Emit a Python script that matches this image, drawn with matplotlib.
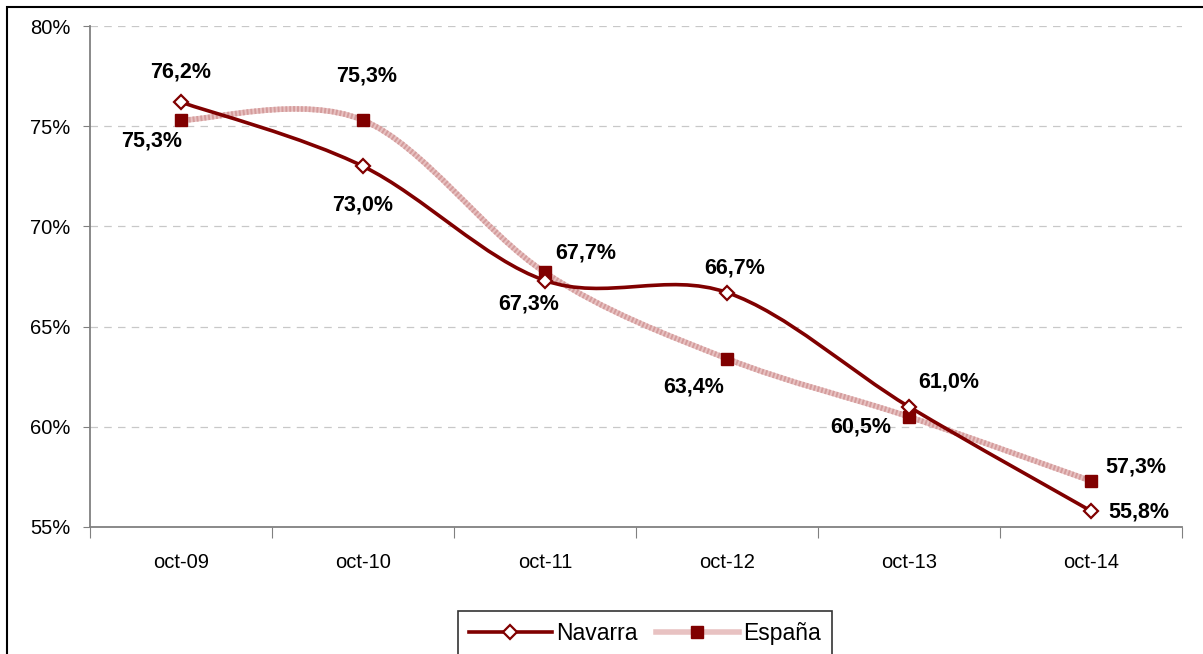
import matplotlib
matplotlib.use('Agg')
import matplotlib.pyplot as plt
from matplotlib.path import Path
from matplotlib.patches import PathPatch, Rectangle
from matplotlib.lines import Line2D
import numpy as np

# --- ДАННЫЕ ---
categories = ['oct-09', 'oct-10', 'oct-11', 'oct-12', 'oct-13', 'oct-14']
navarra = [76.2, 73.0, 67.3, 66.7, 61.0, 55.8]
espana = [75.3, 75.3, 67.7, 63.4, 60.5, 57.3]
navarra_labels = ['76,2%', '73,0%', '67,3%', '66,7%', '61,0%', '55,8%']
espana_labels = ['75,3%', '75,3%', '67,7%', '63,4%', '60,5%', '57,3%']
yticks = [55, 60, 65, 70, 75, 80]

# смещения подписей в пикселях
navarra_offsets = [(0, 30), (0, -39), (-16, -23), (8, 25), (40, 25), (48, -1)]
espana_offsets = [(-29, -21), (4, 44), (41, 19), (-33, -28), (-48, -10), (45, 14)]

MAROON = '#800000'
PINK = '#E8C2C2'
PINK_DARK = '#D49C9C'


def smooth_path(xs, ys):
    """Сглаженная линия в стиле Excel (кривые Безье, Catmull-Rom)."""
    pts = np.column_stack([xs, ys]).astype(float)
    n = len(pts)
    tang = np.zeros_like(pts)
    for i in range(n):
        a = pts[max(i - 1, 0)]
        b = pts[min(i + 1, n - 1)]
        tang[i] = (b - a) / 2.0
    verts = [pts[0]]
    codes = [Path.MOVETO]
    for i in range(n - 1):
        verts += [pts[i] + tang[i] / 3.0, pts[i + 1] - tang[i + 1] / 3.0, pts[i + 1]]
        codes += [Path.CURVE4] * 3
    return Path(verts, codes)


fig = plt.figure(figsize=(12.03, 6.54), dpi=100)
plt.rcParams['font.family'] = ['Liberation Sans', 'DejaVu Sans']
ax = fig.add_axes([90 / 1203, 1 - 527 / 654, 1092 / 1203, 501 / 654])

x = np.arange(len(categories))

# España: светлая "текстурная" линия
p = smooth_path(x, espana)
ax.add_patch(PathPatch(p, fill=False, edgecolor=PINK, lw=4, zorder=3))
ax.add_patch(PathPatch(p, fill=False, edgecolor=PINK_DARK, lw=4,
                       linestyle=(0, (0.35, 0.35)), zorder=3))
ax.plot(x, espana, ls='none', marker='s', ms=9, color=MAROON, zorder=5)

# Navarra
ax.add_patch(PathPatch(smooth_path(x, navarra), fill=False, edgecolor=MAROON, lw=2.6, zorder=4))
ax.plot(x, navarra, ls='none', marker='D', ms=7, mfc='white', mec=MAROON, mew=1.6, zorder=6)

for xi, v, lab, off in zip(x, navarra, navarra_labels, navarra_offsets):
    ax.annotate(lab, (xi, v), xytext=off, textcoords='offset pixels',
                ha='center', va='center', fontsize=15.5, fontweight='bold', zorder=7)
for xi, v, lab, off in zip(x, espana, espana_labels, espana_offsets):
    ax.annotate(lab, (xi, v), xytext=off, textcoords='offset pixels',
                ha='center', va='center', fontsize=15.5, fontweight='bold', zorder=7)

# Оси
ax.set_xlim(-0.5, len(categories) - 0.5)
ax.set_ylim(55, 80)
ax.set_yticks(yticks)
ax.set_yticklabels([f'{t}%' for t in yticks], fontsize=14.5)
ax.set_xticks(np.arange(len(categories) + 1) - 0.5)
ax.set_xticklabels([])
ax.set_xticks(x, minor=True)
ax.set_xticklabels(categories, minor=True, fontsize=14.5)
ax.tick_params(axis='x', which='major', length=8, color='#808080', direction='out')
ax.tick_params(axis='x', which='minor', length=0, pad=19)
ax.tick_params(axis='y', length=5, color='#808080', direction='out', pad=9)

for s in ['top', 'right']:
    ax.spines[s].set_visible(False)
for s in ['left', 'bottom']:
    ax.spines[s].set_color('#808080')
    ax.spines[s].set_linewidth(1.3)

for t in yticks[1:]:
    ax.axhline(t, color='#C8C8C8', lw=0.9, ls=(0, (6, 5)), zorder=1)

# Легенда
handles = [
    Line2D([], [], color=MAROON, lw=2.6, marker='D', ms=7, mfc='white', mec=MAROON, mew=1.6),
    Line2D([], [], color=PINK, lw=4, marker='s', ms=9, mfc=MAROON, mec=MAROON),
]
leg = fig.legend(handles, ['Navarra', 'España'], loc='upper center',
                 bbox_to_anchor=(645 / 1203, 1 - 611 / 654), ncol=2, fontsize=16.5,
                 frameon=True, fancybox=False, handlelength=3.6, handletextpad=0.2,
                 columnspacing=0.8, borderpad=0.5, borderaxespad=0)
leg.get_frame().set_edgecolor('black')
leg.get_frame().set_linewidth(1.2)

# Рамка вокруг графика
fig.patches.append(Rectangle((7 / 1203, -0.1), 1.2, 1.1 - 7 / 654, transform=fig.transFigure,
                             fill=False, edgecolor='black', lw=1.5))

fig.savefig('out.png', dpi=100)
